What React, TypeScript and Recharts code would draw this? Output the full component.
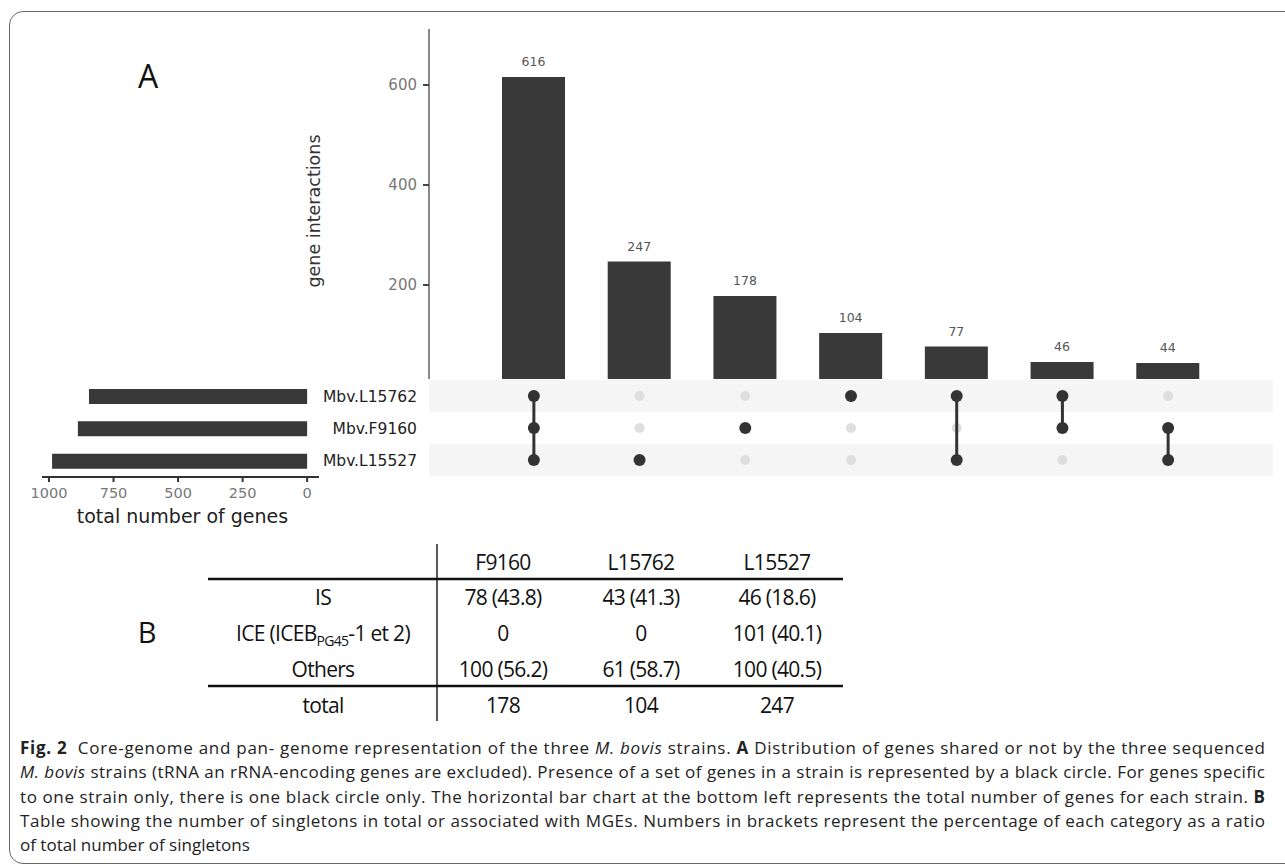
import React from "react";
import { BarChart, Bar, XAxis, YAxis, LabelList, Label, ScatterChart, Scatter, ReferenceArea } from "recharts";

// strains, top to bottom as in the matrix
const strains = ["Mbv.L15762", "Mbv.F9160", "Mbv.L15527"];
const strainTotals = [845, 888, 988];

// intersections, in the order drawn
const setSizes = [616, 247, 178, 104, 77, 46, 44];
const setMembers = [[0, 1, 2], [2], [1], [0], [0, 2], [0, 1], [1, 2]];

const interactionTicks = [0, 200, 400, 600];
const totalTicks = [0, 250, 500, 750, 1000];

// table B
const tableColumns = ["F9160", "L15762", "L15527"];
const isCounts = ["78 (43.8)", "43 (41.3)", "46 (18.6)"];
const iceCounts = ["0", "0", "101 (40.1)"];
const otherCounts = ["100 (56.2)", "61 (58.7)", "100 (40.5)"];
const singletonTotals = ["178", "104", "247"];

const captionLines = [
    [{ t: "Fig. 2", b: true }, { t: "  Core-genome and pan- genome representation of the three " }, { t: "M. bovis", i: true }, { t: " strains. " }, { t: "A", b: true }, { t: " Distribution of genes shared or not by the three sequenced" }],
    [{ t: "M. bovis", i: true }, { t: " strains (tRNA an rRNA-encoding genes are excluded). Presence of a set of genes in a strain is represented by a black circle. For genes specific" }],
    [{ t: "to one strain only, there is one black circle only. The horizontal bar chart at the bottom left represents the total number of genes for each strain. " }, { t: "B", b: true }],
    [{ t: "Table showing the number of singletons in total or associated with MGEs. Numbers in brackets represent the percentage of each category as a ratio" }],
    [{ t: "of total number of singletons" }],
];

const setData = setSizes.map((size, i) => ({ name: `set${i + 1}`, size }));
const totalsData = strains.map((name, i) => ({ name, total: strainTotals[i] }));

const emptyDots: { x: number; y: number }[] = [];
setMembers.forEach((m, i) => {
    strains.forEach((_, r) => {
        if (!m.includes(r)) emptyDots.push({ x: i, y: r });
    });
});
const memberDots = setMembers.map((m, i) => m.map((r) => ({ x: i, y: r })));

const DEJAVU = "'DejaVu Sans', sans-serif";
const OPEN = "'Open Sans', sans-serif";

const GreyDot = (p: any) => <circle cx={p.cx} cy={p.cy} r={5} fill="#dedede" />;
const BlackDot = (p: any) => <circle cx={p.cx} cy={p.cy} r={6} fill="#333" />;

function MainBars() {
    return (
        <BarChart width={1285} height={400} data={setData} margin={{ top: 29, right: 12, left: 280, bottom: 15 }}>
            <XAxis dataKey="name" hide padding={{ left: 52, right: 52 }} />
            <YAxis
                width={149}
                domain={[0, 712]}
                allowDataOverflow
                ticks={interactionTicks}
                interval={0}
                // the 0 label sits under the matrix panel, as in the original
                tickFormatter={(v: number) => (v === 0 ? "" : String(v))}
                axisLine={{ stroke: "#888", strokeWidth: 2 }}
                tickLine={{ stroke: "#444", strokeWidth: 2 }}
                tickSize={6}
                tickMargin={6}
                tick={{ fill: "#777", fontSize: 15, fontFamily: DEJAVU }}
            >
                <Label
                    content={(props: any) => {
                        const vb = props.viewBox;
                        const cx = vb.x + 34;
                        const cy = vb.y + vb.height / 2 + 4;
                        return (
                            <text x={cx} y={cy} transform={`rotate(-90 ${cx} ${cy})`} textAnchor="middle" dominantBaseline="central" fontSize={17.5} fill="#333" fontFamily={DEJAVU}>
                                gene interactions
                            </text>
                        );
                    }}
                />
            </YAxis>
            <Bar dataKey="size" fill="#393939" barSize={63} isAnimationActive={false}>
                <LabelList dataKey="size" position="top" offset={11} fill="#555" fontSize={12.5} fontFamily={DEJAVU} />
            </Bar>
        </BarChart>
    );
}

function TotalsChart() {
    return (
        <BarChart layout="vertical" width={330} height={170} data={totalsData} margin={{ top: 10, right: 11, left: 42, bottom: 13 }}>
            <XAxis
                type="number"
                domain={[-46, 1027]}
                allowDataOverflow
                reversed
                ticks={totalTicks}
                interval={0}
                height={50}
                axisLine={{ stroke: "#333", strokeWidth: 2 }}
                tickLine={{ stroke: "#333", strokeWidth: 2 }}
                tickSize={5}
                tickMargin={6}
                tick={{ fill: "#777", fontSize: 14.5, fontFamily: DEJAVU }}
            >
                <Label
                    content={(props: any) => {
                        const vb = props.viewBox;
                        return (
                            <text x={vb.x + vb.width / 2 + 2} y={vb.y + 39} textAnchor="middle" dominantBaseline="central" fontSize={19} fill="#222" fontFamily={DEJAVU}>
                                total number of genes
                            </text>
                        );
                    }}
                />
            </XAxis>
            <YAxis type="category" dataKey="name" hide />
            <Bar dataKey="total" fill="#383838" barSize={15} isAnimationActive={false} />
        </BarChart>
    );
}

function MatrixChart() {
    return (
        <ScatterChart width={965} height={100} margin={{ top: 1, right: 12, left: 0, bottom: 3 }}>
            <XAxis type="number" dataKey="x" domain={[-0.992, 6.992]} allowDataOverflow hide />
            <YAxis
                type="number"
                dataKey="y"
                domain={[-0.5, 2.5]}
                allowDataOverflow
                reversed
                ticks={[0, 1, 2]}
                interval={0}
                tickFormatter={(v: number) => strains[v]}
                width={109}
                axisLine={false}
                tickLine={false}
                tickSize={6}
                tickMargin={6}
                tick={{ fill: "#222", fontSize: 15.5, fontFamily: DEJAVU }}
            />
            <ReferenceArea y1={-0.5} y2={0.5} fill="#f5f5f5" fillOpacity={1} stroke="none" />
            <ReferenceArea y1={1.5} y2={2.5} fill="#f5f5f5" fillOpacity={1} stroke="none" />
            <Scatter data={emptyDots} shape={GreyDot} isAnimationActive={false} />
            {memberDots.map((pts, i) => (
                <Scatter
                    key={i}
                    data={pts}
                    shape={BlackDot}
                    line={pts.length > 1 ? { stroke: "#333", strokeWidth: 3 } : false}
                    isAnimationActive={false}
                />
            ))}
        </ScatterChart>
    );
}

function TableB() {
    const colX = [503, 641, 777];
    const labelX = 323;
    const cell = { fontSize: 21, fontFamily: OPEN, fill: "#111", textAnchor: "middle" as const, letterSpacing: -0.7 };
    const rows = [isCounts, iceCounts, otherCounts];
    const rowY = [75, 111, 147];
    return (
        <svg width={900} height={230} style={{ position: "absolute", left: 0, top: 530 }}>
            <text x={147} y={113} fontSize={29} fontFamily={OPEN} fill="#111" textAnchor="middle">B</text>
            <line x1={437} x2={437} y1={14} y2={191} stroke="#222" strokeWidth={1.5} />
            <line x1={208} x2={843} y1={49} y2={49} stroke="#111" strokeWidth={2.5} />
            <line x1={208} x2={843} y1={156} y2={156} stroke="#111" strokeWidth={2.5} />
            {tableColumns.map((c, i) => (
                <text key={c} x={colX[i]} y={40} {...cell}>{c}</text>
            ))}
            <text x={labelX} y={rowY[0]} {...cell}>IS</text>
            <text x={labelX} y={rowY[1]} {...cell}>
                ICE (ICEB<tspan fontSize={14} dy={5}>PG45</tspan><tspan dy={-5}>-1 et 2)</tspan>
            </text>
            <text x={labelX} y={rowY[2]} {...cell}>Others</text>
            <text x={labelX} y={183} {...cell}>total</text>
            {rows.map((r, ri) =>
                r.map((v, ci) => (
                    <text key={`${ri}-${ci}`} x={colX[ci]} y={rowY[ri]} {...cell}>{v}</text>
                ))
            )}
            {singletonTotals.map((v, ci) => (
                <text key={`t${ci}`} x={colX[ci]} y={183} {...cell}>{v}</text>
            ))}
        </svg>
    );
}

function Caption() {
    const base = [24, 48.3, 72.6, 96.9, 121.2];
    return (
        <svg width={1285} height={136} style={{ position: "absolute", left: 0, top: 730 }}>
            {captionLines.map((segs, li) => (
                <text
                    key={li}
                    x={20}
                    y={base[li]}
                    fontSize={17}
                    fontFamily={OPEN}
                    fill="#222"
                    {...(li < 4 ? { textLength: 1245, lengthAdjust: "spacing" } : {})}
                    style={{ whiteSpace: "pre" }}
                >
                    {segs.map((s: any, si) => (
                        <tspan key={si} fontWeight={s.b ? 700 : 400} fontStyle={s.i ? "italic" : "normal"}>{s.t}</tspan>
                    ))}
                </text>
            ))}
        </svg>
    );
}

export default function App() {
    return (
        <div style={{ position: "absolute", left: 0, top: 0, width: 1285, height: 866, background: "#fff", overflow: "hidden" }}>
            <div style={{ position: "absolute", left: 9, top: 11, width: 1300, height: 853, border: "1.5px solid #666", borderRadius: 14, boxSizing: "border-box" }} />
            <div style={{ position: "absolute", left: 0, top: 0 }}>
                <MainBars />
            </div>
            <div style={{ position: "absolute", left: 0, top: 370 }}>
                <TotalsChart />
            </div>
            <div style={{ position: "absolute", left: 320, top: 379, width: 965, height: 100, background: "#fff" }}>
                <MatrixChart />
            </div>
            <div style={{ position: "absolute", left: 128, top: 56, width: 40, textAlign: "center", fontSize: 32, lineHeight: "40px", fontFamily: OPEN, color: "#111" }}>A</div>
            <TableB />
            <Caption />
        </div>
    );
}
